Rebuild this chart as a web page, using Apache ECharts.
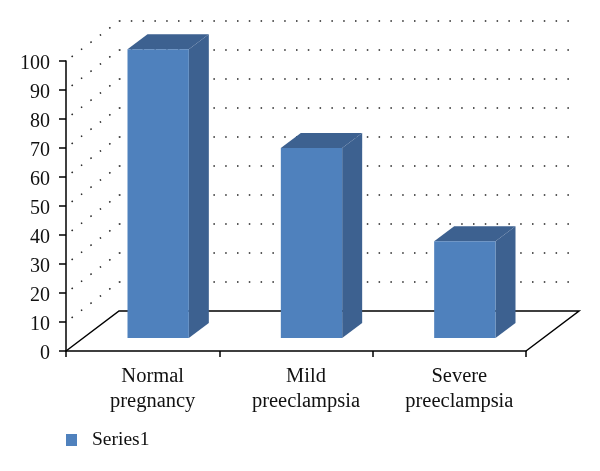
<!DOCTYPE html>
<html>
<head>
<meta charset="utf-8">
<style>html,body{margin:0;padding:0;background:#fff}#c{width:600px;height:471px}</style>
<script src="https://cdn.jsdelivr.net/npm/echarts@6/dist/echarts.min.js"></script>
</head>
<body>
<div id="c"></div>
<script>
const categories = ['Normal\npregnancy', 'Mild\npreeclampsia', 'Severe\npreeclampsia'];
const values = [99.6, 65.5, 33.4];
const wallTicks = [10, 20, 30, 40, 50, 60, 70, 80, 90, 100];
const seriesName = 'Series1';

const BACK = [53, -40];
const BAR_SHIFT = [15.5, -13];
const BAR_DEPTH = [20, -15];
const FRONT = '#4f81bd', SHADE = '#3d6190', INK = '#111';
const FONT = '"Liberation Serif", serif';

const chart = echarts.init(document.getElementById('c'), null, {renderer: 'canvas'});
chart.setOption({
  animation: false,
  backgroundColor: '#fff',
  textStyle: {fontFamily: FONT},
  grid: [
    {left: 66, top: 61, width: 460, height: 290},
    {left: 66 + BACK[0], top: 61 + BACK[1], width: 460, height: 290}
  ],
  legend: {
    left: 61, top: 425, icon: 'rect', itemWidth: 11, itemHeight: 12,
    data: [seriesName],
    textStyle: {fontFamily: FONT, fontSize: 19.5, color: INK, padding: [0, 0, 0, 10]}
  },
  xAxis: [
    {gridIndex: 0, type: 'category', data: categories,
     axisLine: {lineStyle: {color: '#000', width: 1.5}},
     axisTick: {show: true, alignWithLabel: false, length: 6, lineStyle: {color: '#000', width: 1.5}},
     axisLabel: {color: INK, fontSize: 20.5, fontFamily: FONT, lineHeight: 25, margin: 13, padding: [0, 0, 0, 20], interval: 0}},
    {gridIndex: 1, type: 'category', data: categories, show: false}
  ],
  yAxis: [
    {gridIndex: 0, type: 'value', min: 0, max: 100, interval: 10,
     axisLine: {show: true, lineStyle: {color: '#000', width: 1.5}},
     axisTick: {show: true, length: 7, lineStyle: {color: '#000', width: 1.5}},
     axisLabel: {margin: 16, formatter: '{n|{value}}',
       rich: {n: {color: INK, fontSize: 20, fontFamily: FONT, padding: [5, 0, 0, 0]}}},
     splitLine: {show: false}},
    {gridIndex: 1, type: 'value', min: 0, max: 100, interval: 10,
     axisLine: {show: false}, axisTick: {show: false}, axisLabel: {show: false},
     splitLine: {show: true, showMinLine: false, lineStyle: {color: '#222', width: 1.5, type: [1.5, 10.3]}}}
  ],
  series: [
    {
      type: 'custom', name: 'wall', xAxisIndex: 0, yAxisIndex: 0, z: 1, silent: true,
      legendHoverLink: false,
      data: wallTicks.map(t => [0, t]),
      renderItem(params, api) {
        const p = api.coord([0, api.value(1)]);
        const half = api.size([1, 0])[0] / 2;
        const x = p[0] - half;
        return {type: 'line',
          shape: {x1: x, y1: p[1], x2: x + BACK[0], y2: p[1] + BACK[1]},
          style: {stroke: '#222', lineWidth: 1.5, lineDash: [1.5, 10.3], lineDashOffset: 4.8, fill: null}};
      }
    },
    {
      type: 'custom', name: 'floor', xAxisIndex: 0, yAxisIndex: 0, z: 2, silent: true,
      data: [[0, 0]],
      renderItem(params, api) {
        const p = api.coord([0, 0]);
        const band = api.size([1, 0])[0];
        const x0 = p[0] - band / 2, x1 = x0 + band * categories.length, y = p[1];
        return {type: 'polyline',
          shape: {points: [[x0, y], [x0 + BACK[0], y + BACK[1]], [x1 + BACK[0], y + BACK[1]], [x1, y]]},
          style: {stroke: '#000', lineWidth: 1.5, fill: null}};
      }
    },
    {
      type: 'custom', name: seriesName, xAxisIndex: 0, yAxisIndex: 0, z: 3,
      itemStyle: {color: FRONT},
      data: values.map((v, i) => [i, v]),
      renderItem(params, api) {
        const top = api.coord([api.value(0), api.value(1)]);
        const base = api.coord([api.value(0), 0]);
        const w = api.size([1, 0])[0] * 0.4;
        const l = top[0] - w / 2 + BAR_SHIFT[0], r = l + w;
        const t = top[1] + BAR_SHIFT[1], b = base[1] + BAR_SHIFT[1];
        const dx = BAR_DEPTH[0], dy = BAR_DEPTH[1];
        return {type: 'group', children: [
          {type: 'polygon', shape: {points: [[l, t], [l + dx, t + dy], [r + dx, t + dy], [r, t]]}, style: {fill: SHADE}},
          {type: 'polygon', shape: {points: [[r, t], [r + dx, t + dy], [r + dx, b + dy], [r, b]]}, style: {fill: SHADE}},
          {type: 'rect', shape: {x: l, y: t, width: w, height: b - t}, style: {fill: FRONT}}
        ]};
      }
    }
  ]
});
</script>
</body>
</html>
